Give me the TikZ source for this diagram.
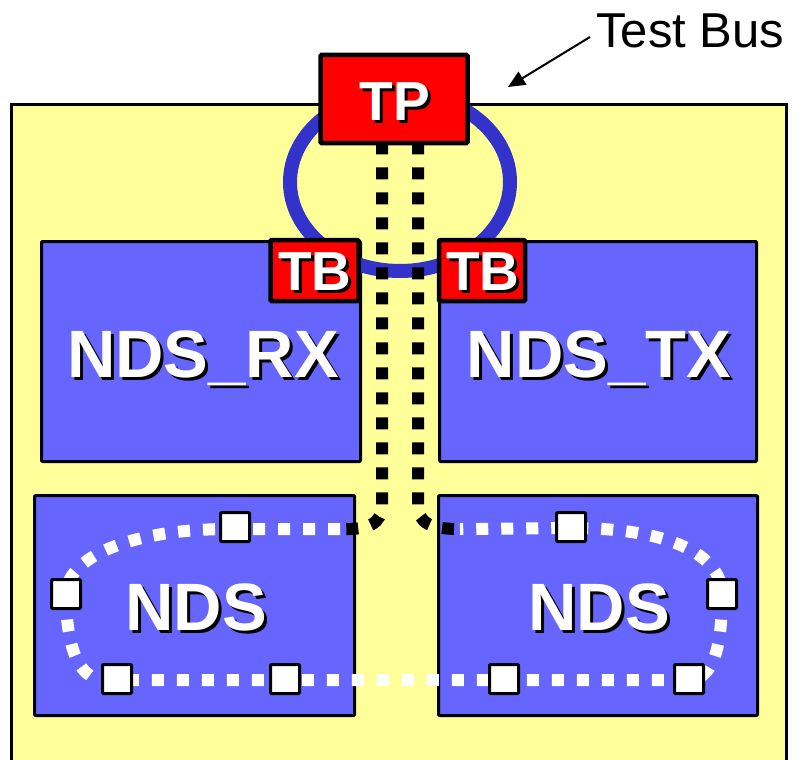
\documentclass[tikz,border=0pt]{standalone}
\usepackage{fontspec}
\setmainfont{Liberation Sans}
\usetikzlibrary{arrows.meta}
\definecolor{bgyellow}{HTML}{FFFF99}
\definecolor{ndsblue}{HTML}{6666FF}
\definecolor{ringblue}{HTML}{3333CC}
\definecolor{tpred}{HTML}{FF0000}
\newcommand\shtxt[1]{\makebox[0pt][l]{\kern3pt\raisebox{-3pt}{\color{black}#1}}{\color{white}#1}}
\tikzset{
  chipbox/.style={draw=black,line width=3pt,fill=ndsblue,inner sep=0pt,rounded corners=1pt},
  redbox/.style={draw=black,line width=4.5pt,fill=tpred,inner sep=0pt,rounded corners=1pt},
  cell/.style={draw=black,line width=3pt,fill=white,minimum width=29pt,minimum height=29pt,inner sep=0pt,rounded corners=1pt},
  bigtxt/.style={anchor=base,inner sep=0pt,font=\bfseries\fontsize{67}{67}\selectfont},
  redtxt/.style={anchor=base,inner sep=0pt,font=\bfseries\fontsize{55}{55}\selectfont},
  busline/.style={line width=12pt,dash pattern=on 12pt off 13pt},
}
\begin{document}
\begin{tikzpicture}[x=1pt,y=-1pt]
\useasboundingbox (0,0) rectangle (795,760);
\clip (0,0) rectangle (795,760);
% outer chip
\node[draw=black,line width=3pt,fill=bgyellow,minimum width=775pt,minimum height=680pt,inner sep=0pt] (chip) at (398.5,444.5) {};
% blue blocks
\node[chipbox,minimum width=319pt,minimum height=220pt] (rx) at (201,351.5) {};
\node[chipbox,minimum width=317pt,minimum height=220pt] (tx) at (598,351.5) {};
\node[chipbox,minimum width=320pt,minimum height=220pt] (ndsl) at (194.5,605.5) {};
\node[chipbox,minimum width=319pt,minimum height=220pt] (ndsr) at (598,605.5) {};
% ring
\draw[ringblue,line width=14pt] (400,182) ellipse [x radius=110pt,y radius=89pt];
% TB and TP boxes
\node[redbox,minimum width=88pt,minimum height=61pt] (tbl) at (314.5,270.5) {};
\node[redbox,minimum width=86pt,minimum height=61pt] (tbr) at (482,270.5) {};
\node[redbox,minimum width=147pt,minimum height=88pt] (tp) at (394,99) {};
% texts
\node[redtxt] (tptxt) at (395,120) {\shtxt{TP}};
\node[redtxt] (tbltxt) at (315,290) {\shtxt{TB}};
\node[redtxt] (tbrtxt) at (483,290) {\shtxt{TB}};
\node[bigtxt] (rxtxt) at (203,377) {\shtxt{NDS\_RX}};
\node[bigtxt] (txtxt) at (599,377) {\shtxt{NDS\_TX}};
\node[bigtxt] (ndsltxt) at (196,630) {\shtxt{NDS}};
\node[bigtxt] (ndsrtxt) at (599,630) {\shtxt{NDS}};
% scan chain loop (white)
\coordinate (lj) at (340,529);
\coordinate (rj) at (460,529);
\draw[white,busline] (lj) -- (230,529) .. controls (125,529) and (66,560) .. (66,594)
  .. controls (66,640) and (76,680) .. (105,680) -- (690,680)
  .. controls (716,678) and (722,640) .. (722,594)
  .. controls (722,560) and (680,528) .. (571,528) -- (rj);
% test bus lines (black)
\draw[black,busline] ([xshift=-12pt,yshift=3pt]tp.south) -- (382,505) .. controls (382,524) and (368,530) .. (lj);
\draw[black,busline] ([xshift=24pt,yshift=3pt]tp.south) -- (418,505) .. controls (418,524) and (432,529) .. (rj);
% scan cells
\node[cell] (c1) at (235,527) {};
\node[cell] (c2) at (66,594) {};
\node[cell] (c3) at (117,679) {};
\node[cell] (c4) at (285,679) {};
\node[cell] (c5) at (571,527) {};
\node[cell] (c6) at (722,594) {};
\node[cell] (c7) at (504,679) {};
\node[cell] (c8) at (689,679) {};
% label
\node[anchor=base west,inner sep=0pt,font=\fontsize{49}{49}\selectfont] (lbl) at (596,48) {Test Bus};
\coordinate (atail) at (590,37);
\draw[line width=2pt,-{Triangle[length=17pt,width=15pt]}] (atail) -- (508,87);
\end{tikzpicture}
\end{document}
